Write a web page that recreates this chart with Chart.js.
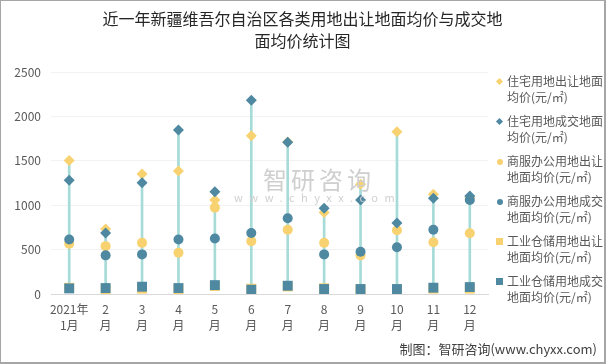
<!DOCTYPE html>
<html>
<head>
<meta charset="utf-8">
<script src="https://cdn.jsdelivr.net/npm/chart.js@4.4.1/dist/chart.umd.min.js"></script>
<style>
  html, body { margin: 0; padding: 0; background: #fff; }
  #wrap { position: relative; width: 606px; height: 364px; box-sizing: border-box;
          border: 1px solid #a6a6a6; border-right-width: 2px; border-bottom-width: 2px;
          font-family: "Noto Sans CJK SC", "Noto Sans", sans-serif; }
  canvas { position: absolute; left: 0; top: 0; }
  #title { position: absolute; left: 0; top: 6px; width: 603px; text-align: center;
           font-size: 16px; line-height: 22px; color: #262626; }
  #legend { position: absolute; left: 494px; top: 72px; width: 110px; }
  .item { position: relative; height: 40px; padding-left: 12px; font-size: 12px;
          line-height: 16px; color: #595959; }
  .mk { position: absolute; left: 2px; top: 6px; width: 5px; height: 5px; }
  .dia { transform: rotate(45deg); }
  .cir { border-radius: 50%; width: 6px; height: 6px; }
  .sq { width: 7px; height: 7px; top: 5px; left: 1px; }
  #footer { position: absolute; right: 7px; top: 338px; font-size: 13px; color: #404040; }
  #wm { position: absolute; left: 262px; top: 160px; font-size: 24px; color: #cfcfcf;
        letter-spacing: 4px; }
  #wm2 { position: absolute; left: 233px; top: 188px; font-size: 11px; color: #d0d0d0;
         letter-spacing: 6.5px; }
</style>
</head>
<body>
<div id="wrap">
  <canvas id="chart" width="603" height="361"></canvas>
  <div id="title">近一年新疆维吾尔自治区各类用地出让地面均价与成交地<br>面均价统计图</div>
  <div id="wm">智研咨询</div>
  <div id="wm2">www.chyxx.com</div>
  <div id="legend"></div>
  <div id="footer">制图：智研咨询(www.chyxx.com)</div>
</div>
<script>
// 月份
const months = [['2021年', '1月'], ['2', '月'], ['3', '月'], ['4', '月'], ['5', '月'], ['6', '月'],
                ['7', '月'], ['8', '月'], ['9', '月'], ['10', '月'], ['11', '月'], ['12', '月']];

// 各类用地均价 (元/㎡)
const zhuzhaiChurang = [1504, 732, 1352, 1386, 1059, 1783, 1712, 918, 1237, 1828, 1122, 1085];
const zhuzhaiChengjiao = [1282, 687, 1252, 1846, 1152, 2181, 1709, 966, 1059, 799, 1077, 1103];
const shangfuChurang = [565, 539, 576, 464, 973, 594, 724, 576, 435, 717, 583, 684];
const shangfuChengjiao = [613, 435, 446, 613, 624, 687, 854, 446, 475, 527, 724, 1059];
const gongyeChurang = [70, 55, 60, 55, 90, 60, 85, 65, 45, 50, 60, 60];
const gongyeChengjiao = [63, 67, 82, 67, 100, 48, 93, 56, 56, 56, 71, 78];

const yTicks = [0, 500, 1000, 1500, 2000, 2500];

const yellow = '#f8d270';
const blue = '#4e88a1';
const teal = '#a6dbd8';

const series = [
  { label: '住宅用地出让地面均价(元/㎡)', data: zhuzhaiChurang, color: yellow, style: 'rectRot', r: 5.5, mk: 'dia' },
  { label: '住宅用地成交地面均价(元/㎡)', data: zhuzhaiChengjiao, color: blue, style: 'rectRot', r: 5.5, mk: 'dia' },
  { label: '商服办公用地出让地面均价(元/㎡)', data: shangfuChurang, color: yellow, style: 'circle', r: 5, mk: 'cir' },
  { label: '商服办公用地成交地面均价(元/㎡)', data: shangfuChengjiao, color: blue, style: 'circle', r: 5, mk: 'cir' },
  { label: '工业仓储用地出让地面均价(元/㎡)', data: gongyeChurang, color: yellow, style: 'rect', r: 7, mk: 'sq' },
  { label: '工业仓储用地成交地面均价(元/㎡)', data: gongyeChengjiao, color: blue, style: 'rect', r: 7, mk: 'sq' }
];

// 高低线: 每月最小值到最大值
const ranges = months.map((m, i) => {
  const vals = series.map(s => s.data[i]);
  return [Math.min(...vals), Math.max(...vals)];
});

const datasets = [{
  type: 'bar',
  data: ranges,
  backgroundColor: teal,
  barThickness: 2,
  order: 10
}];
series.forEach(s => {
  datasets.push({
    type: 'line',
    label: s.label,
    data: s.data,
    showLine: false,
    pointStyle: s.style,
    pointRadius: s.r,
    pointHoverRadius: s.r,
    pointBackgroundColor: s.color,
    pointBorderColor: s.color,
    pointBorderWidth: 0,
    order: s.color === blue ? 1 : 2
  });
});

new Chart(document.getElementById('chart').getContext('2d'), {
  data: { labels: months, datasets: datasets },
  options: {
    responsive: false,
    animation: false,
    layout: { padding: { top: 71, right: 116, bottom: 22, left: 0 } },
    plugins: {
      legend: { display: false },
      tooltip: { enabled: false }
    },
    scales: {
      x: {
        offset: true,
        grid: { display: false, drawTicks: false },
        border: { color: '#d9d9d9', width: 1 },
        ticks: { color: '#595959', font: { family: '"Noto Sans CJK SC"', size: 12, lineHeight: 1.35 },
                 padding: 7, maxRotation: 0, autoSkip: false },
        afterFit: s => { s.height = 46; }
      },
      y: {
        min: 0, max: 2500,
        afterBuildTicks: s => { s.ticks = yTicks.map(v => ({ value: v })); },
        grid: { color: '#f2f2f2', drawTicks: false },
        border: { display: false },
        ticks: { color: '#595959', font: { family: '"Noto Sans CJK SC"', size: 12 }, padding: 10,
                 callback: v => String(v) },
        afterFit: s => { s.width = 50; }
      }
    }
  }
});

// 图例
const legendEl = document.getElementById('legend');
const legendText = [
  ['住宅用地出让地面', '均价(元/㎡)'],
  ['住宅用地成交地面', '均价(元/㎡)'],
  ['商服办公用地出让', '地面均价(元/㎡)'],
  ['商服办公用地成交', '地面均价(元/㎡)'],
  ['工业仓储用地出让', '地面均价(元/㎡)'],
  ['工业仓储用地成交', '地面均价(元/㎡)']
];
series.forEach((s, i) => {
  const div = document.createElement('div');
  div.className = 'item';
  div.innerHTML = '<span class="mk ' + s.mk + '" style="background:' + s.color + '"></span>' +
    legendText[i][0] + '<br>' + legendText[i][1];
  legendEl.appendChild(div);
});
</script>
</body>
</html>
